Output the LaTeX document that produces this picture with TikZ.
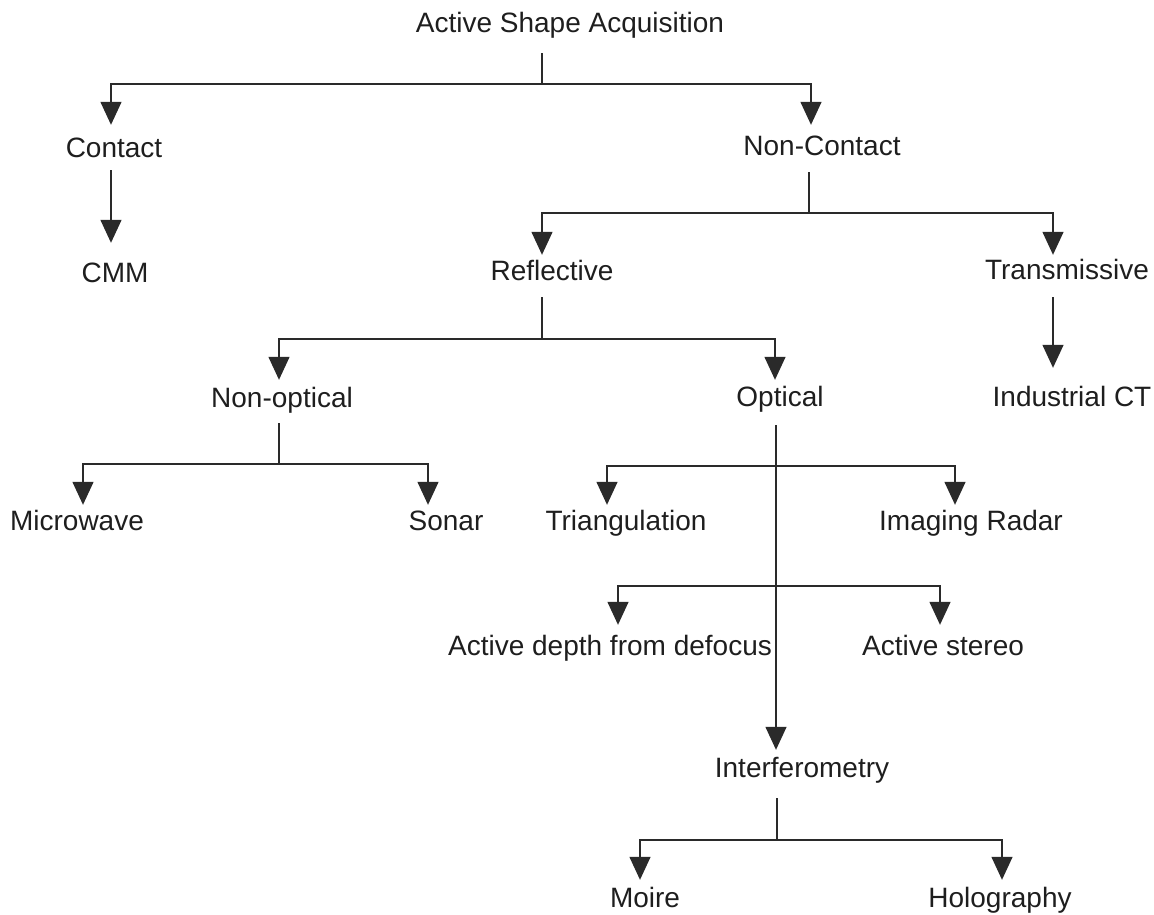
\documentclass[tikz,border=0pt]{standalone}
\usepackage{fontspec}
\setmainfont{Liberation Sans}
\usetikzlibrary{arrows.meta,calc}
\definecolor{ink}{HTML}{1E1E1E}
\definecolor{lineink}{HTML}{2A2A2A}
\tikzset{
  lbl/.style={anchor=base, inner sep=0pt, text height=20pt, text depth=6pt,
    text=ink, font=\fontsize{28}{30}\selectfont},
  ln/.style={draw=lineink, line width=1.4pt},
  arr/.style={ln, -{Triangle[width=21pt,length=23pt]}}
}
\begin{document}
\begin{tikzpicture}[x=1pt,y=-1pt]
\useasboundingbox (0,0) rectangle (1154,914);
% nodes
\node[lbl] (title) at (570,32) {Active Shape Acquisition};
\node[lbl] (contact) at (114,157) {Contact};
\node[lbl] (cmm) at (115,282) {CMM};
\node[lbl] (noncontact) at (822,155) {Non-Contact};
\node[lbl] (reflective) at (552,280) {Reflective};
\node[lbl] (transmissive) at (1067,279) {Transmissive};
\node[lbl] (nonoptical) at (282,407) {Non-optical};
\node[lbl] (optical) at (780,406) {Optical};
\node[lbl] (industrial) at (1072,406) {Industrial CT};
\node[lbl] (microwave) at (77,530) {Microwave};
\node[lbl] (sonar) at (446,530) {Sonar};
\node[lbl] (triang) at (626,530) {Triangulation};
\node[lbl] (imaging) at (971,530) {Imaging Radar};
\node[lbl] (depth) at (610,655) {Active depth from defocus};
\node[lbl] (stereo) at (943,655) {Active stereo};
\node[lbl] (interf) at (802,777) {Interferometry};
\node[lbl] (moire) at (645,907) {Moire};
\node[lbl] (holo) at (1000,907) {Holography};
% junctions
\coordinate (j1) at (542,84);
\coordinate (j2) at (809,213);
\coordinate (j3) at (542,339);
\coordinate (j4) at (279,464);
\coordinate (j5) at (776,466);
\coordinate (j6) at (776,586);
\coordinate (j7) at (777,840);
% title
\draw[ln] ($(title.south)+(-28,15)$) -- (j1);
\draw[arr] (j1) -| ($(contact.north)+(-3,-12)$);
\draw[arr] (j1) -| ($(noncontact.north)+(-11,-10)$);
% contact
\draw[arr] ($(contact.south)+(-3,7)$) -- ($(cmm.north)+(-4,-19)$);
% non-contact
\draw[ln] ($(noncontact.south)+(-13,11)$) -- (j2);
\draw[arr] (j2) -| ($(reflective.north)+(-10,-5)$);
\draw[arr] (j2) -| ($(transmissive.north)+(-14,-4)$);
% reflective
\draw[ln] ($(reflective.south)+(-10,11)$) -- (j3);
\draw[arr] (j3) -| ($(nonoptical.north)+(-3,-7)$);
\draw[arr] (j3) -| ($(optical.north)+(-5,-6)$);
% transmissive
\draw[arr] ($(transmissive.south)+(-14,12)$) -- ($(industrial.north)+(-19,-18)$);
% non-optical
\draw[ln] ($(nonoptical.south)+(-3,10)$) -- (j4);
\draw[arr] (j4) -| ($(microwave.north)+(6,-5)$);
\draw[arr] (j4) -| ($(sonar.north)+(-18,-5)$);
% optical
\draw[arr] ($(optical.south)+(-4,13)$) -- ($(interf.north)+(-26,-7)$);
\draw[arr] (j5) -| ($(triang.north)+(-19,-5)$);
\draw[arr] (j5) -| ($(imaging.north)+(-16,-5)$);
\draw[arr] (j6) -| ($(depth.north)+(8,-10)$);
\draw[arr] (j6) -| ($(stereo.north)+(-3,-10)$);
% interferometry
\draw[ln] ($(interf.south)+(-25,15)$) -- (j7);
\draw[arr] (j7) -| ($(moire.north)+(-5,-7)$);
\draw[arr] (j7) -| ($(holo.north)+(2,-7)$);
\end{tikzpicture}
\end{document}
